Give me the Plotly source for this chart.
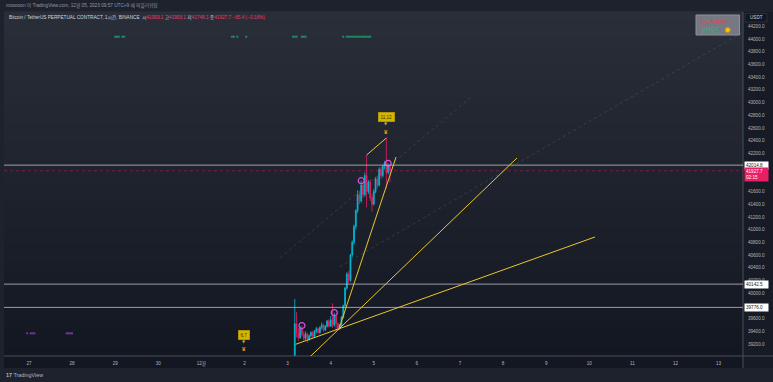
import plotly.graph_objects as go
from datetime import datetime, timedelta

# ---------------- data ----------------
candle_start = "2023-12-03 04:00"
opens  = [38900, 39520, 39380, 39300, 39450, 39350, 39290, 39360, 39280, 39330,
          39380, 39320, 39400, 39440, 39380, 39460, 39500, 39420, 39480, 39560,
          39480, 39580, 39500, 39640, 39520, 39450, 39500, 39620, 39800, 40080,
          40300, 40200, 40600, 40800, 41050, 41300, 41550, 41450, 41700, 41550,
          41850, 41600, 41750, 41500, 41400, 41600, 41800, 41700, 41950, 41850,
          42000, 42050, 41900, 41993.1]
highs  = [39910, 39705, 39450, 39480, 39490, 39400, 39400, 39380, 39350, 39400,
          39410, 39420, 39470, 39460, 39480, 39540, 39520, 39500, 39580, 39590,
          39640, 39840, 39693, 39660, 39540, 39520, 39640, 39820, 40100, 40330,
          40350, 40620, 40830, 41080, 41320, 41620, 41600, 41770, 41740, 41900,
          42174, 41780, 41790, 41560, 41640, 41830, 41840, 41980, 41990, 42020,
          42080, 42442, 42044, 41993.1]
lows   = [38850, 39300, 39250, 39280, 39320, 39250, 39260, 39220, 39250, 39300,
          39290, 39300, 39370, 39350, 39360, 39430, 39390, 39400, 39460, 39460,
          39470, 39450, 39470, 39400, 39410, 39420, 39480, 39600, 39780, 40050,
          40150, 40180, 40560, 40760, 41000, 41260, 41400, 41420, 41500, 41520,
          41350, 41560, 41450, 41282, 41380, 41570, 41650, 41680, 41800, 41820,
          41950, 41650, 41870, 41748.1]
closes = [39520, 39380, 39300, 39450, 39350, 39290, 39360, 39280, 39330, 39380,
          39320, 39400, 39440, 39380, 39460, 39500, 39420, 39480, 39560, 39480,
          39580, 39500, 39640, 39520, 39450, 39500, 39620, 39800, 40080, 40300,
          40200, 40600, 40800, 41050, 41300, 41550, 41450, 41700, 41550, 41850,
          41600, 41750, 41500, 41400, 41600, 41800, 41700, 41950, 41850, 42000,
          42050, 41900, 41993.1, 41927.7]

circle_times  = ["2023-12-03 08:00", "2023-12-04 02:00", "2023-12-04 17:00", "2023-12-05 08:00"]
circle_prices = [39490, 39693, 41770, 42044]

signal_texts  = ["6,7", "11,12"]
signal_times  = ["2023-12-02 00:00", "2023-12-05 07:00"]
signal_prices = [39121, 42541]

green_mark_times = ["2023-11-29 00:00", "2023-11-29 01:00", "2023-11-29 02:00",
                    "2023-11-29 04:00", "2023-11-29 05:00",
                    "2023-12-01 17:00", "2023-12-01 18:00", "2023-12-01 20:00",
                    "2023-12-02 01:00",
                    "2023-12-03 03:00", "2023-12-03 04:00", "2023-12-03 05:00",
                    "2023-12-03 08:00", "2023-12-03 09:00", "2023-12-03 10:00",
                    "2023-12-04 07:00"] + ["2023-12-04 %02d:00" % h for h in range(9, 23)]
green_mark_price = 44036

purple_mark_times = ["2023-11-26 23:00", "2023-11-27 01:00", "2023-11-27 02:00",
                     "2023-11-27 03:00", "2023-11-27 21:00", "2023-11-27 22:00",
                     "2023-11-27 23:00", "2023-11-28 00:00"]
purple_mark_price = 39368

hline_levels = [42014.8, 40142.5, 39776.0]
last_price = 41927.7
last_countdown = "02:15"

trend_lines = [  # (t0, p0, t1, p1)
    ("2023-12-04 04:36", 39436, "2023-12-05 12:24", 42143),
    ("2023-12-03 07:00", 38850, "2023-12-08 07:44", 42127),
    ("2023-12-03 04:30", 39195, "2023-12-10 03:10", 40884),
    ("2023-12-04 20:00", 42174, "2023-12-05 07:00", 42442),
]
faint_lines = [
    ("2023-12-02 19:46", 40553, "2023-12-07 05:34", 43071),
    ("2023-12-04 05:11", 40418, "2023-12-13 13:36", 44110),
]

tick_dates = ["2023-11-%02d" % d for d in range(27, 31)] + ["2023-12-%02d" % d for d in range(1, 14)]
tick_texts = ["27", "28", "29", "30", "12월"] + [str(d) for d in range(2, 14)]
price_ticks = [39200, 39400, 39600, 40000, 40200, 40400, 40600, 40800, 41000, 41200,
               41400, 41600, 42200, 42400, 42600, 42800, 43000, 43200, 43400, 43600,
               43800, 44000, 44200]

# ---------------- styling ----------------
W, H = 773, 382
ML, MR, MT, MB = 4, 30, 12, 26
PW, PH = W - ML - MR, H - MT - MB
UP, DN = "#00bcd4", "#e91e63"
YEL = "#e8c82e"
FONT = "Liberation Sans, Noto Sans CJK KR, sans-serif"
TXT = "#b2b5be"

def pxx(px):
    return (px - ML) / PW

def pxy(py):
    return (H - MB - py) / PH

times = [(datetime.strptime(candle_start, "%Y-%m-%d %H:%M") + timedelta(hours=i)).strftime("%Y-%m-%d %H:%M")
         for i in range(len(opens))]

fig = go.Figure()

fig.add_trace(go.Scatter(x=green_mark_times, y=[green_mark_price] * len(green_mark_times),
                         mode="markers", marker=dict(symbol="square", size=2, color="#1f8a62", line=dict(width=0)),
                         hoverinfo="skip", showlegend=False))
fig.add_trace(go.Scatter(x=purple_mark_times, y=[purple_mark_price] * len(purple_mark_times),
                         mode="markers", marker=dict(symbol="square", size=2, color="#6c3a95", line=dict(width=0)),
                         hoverinfo="skip", showlegend=False))

fig.add_trace(go.Candlestick(
    x=times, open=opens, high=highs, low=lows, close=closes,
    increasing=dict(line=dict(color=UP, width=0.8), fillcolor=UP),
    decreasing=dict(line=dict(color=DN, width=0.8), fillcolor=DN),
    whiskerwidth=0, hoverinfo="skip", showlegend=False))

fig.add_trace(go.Scatter(x=circle_times, y=circle_prices, mode="markers",
                         marker=dict(symbol="circle-open", size=6, color="#d94fe8", line=dict(width=1.2)),
                         hoverinfo="skip", showlegend=False))

shapes = []
# gradient pane background
N = 40
top_c, bot_c = (42, 46, 57), (19, 23, 34)
for i in range(N):
    f = (i + 0.5) / N
    c = tuple(int(round(bot_c[k] + (top_c[k] - bot_c[k]) * f)) for k in range(3))
    shapes.append(dict(type="rect", xref="paper", yref="paper", x0=0, x1=1,
                       y0=i / N, y1=(i + 1) / N + 0.002, fillcolor="rgb(%d,%d,%d)" % c,
                       line=dict(width=0), layer="below"))
# price axis and time axis panels
shapes.append(dict(type="rect", xref="paper", yref="paper", x0=1, x1=pxx(W), y0=pxy(368), y1=1,
                   fillcolor="#171b26", line=dict(width=0), layer="below"))
shapes.append(dict(type="rect", xref="paper", yref="paper", x0=0, x1=1, y0=pxy(368), y1=0,
                   fillcolor="#131722", line=dict(width=0), layer="below"))
# separators
shapes.append(dict(type="line", xref="paper", yref="paper", x0=0, x1=pxx(W), y0=0, y1=0,
                   line=dict(color="#4a4e59", width=1)))
shapes.append(dict(type="line", xref="paper", yref="paper", x0=1, x1=1, y0=pxy(368), y1=1,
                   line=dict(color="#4a4e59", width=1)))

# faint dotted lines
for a, pa, b, pb in faint_lines:
    shapes.append(dict(type="line", xref="x", yref="y", x0=a, y0=pa, x1=b, y1=pb,
                       line=dict(color="rgba(95,125,135,0.3)", width=1, dash="dot")))
# horizontal lines
for v in hline_levels:
    shapes.append(dict(type="line", xref="paper", yref="y", x0=0, x1=1, y0=v, y1=v,
                       line=dict(color="rgba(200,202,210,0.75)", width=1)))
shapes.append(dict(type="line", xref="paper", yref="y", x0=0, x1=1, y0=last_price, y1=last_price,
                   line=dict(color="rgba(233,30,99,0.4)", width=1, dash="dot")))
# trend lines
for a, pa, b, pb in trend_lines:
    shapes.append(dict(type="line", xref="x", yref="y", x0=a, y0=pa, x1=b, y1=pb,
                       line=dict(color=YEL, width=1)))

# signal box (top right)
shapes.append(dict(type="rect", xref="paper", yref="paper", x0=pxx(696), x1=pxx(739.5),
                   y0=pxy(35), y1=pxy(15), fillcolor="#767983", line=dict(color="#8e919b", width=1)))
shapes.append(dict(type="circle", xref="paper", yref="paper", x0=pxx(725.2), x1=pxx(730.2),
                   y0=pxy(32.5), y1=pxy(27.5), fillcolor="#f5c400", line=dict(color="#e08a00", width=0.8)))
# USDT box
shapes.append(dict(type="rect", xref="paper", yref="paper", x0=pxx(745), x1=pxx(767),
                   y0=pxy(22), y1=pxy(13.5), fillcolor="#131722", line=dict(color="#2a2e39", width=1)))

ann = []
# header
ann.append(dict(xref="paper", yref="paper", x=pxx(4), y=pxy(6), xanchor="left", yanchor="middle",
                text="mooooon 이 TradingView.com, 12월 05, 2023 09:57 UTC+9 에 퍼블리쉬됨",
                showarrow=False, font=dict(size=4.7, color="#9598a1", family=FONT)))
red = "#f0386b"
legend = ("Bitcoin / TetherUS PERPETUAL CONTRACT, 1시간, BINANCE  "
          "시<span style='color:%s'>%.1f</span> 고<span style='color:%s'>%.1f</span> "
          "저<span style='color:%s'>%.1f</span> 종<span style='color:%s'>%.1f</span> "
          "<span style='color:%s'>−65.4 (−0.16%%)</span>") % (
    red, opens[-1], red, highs[-1], red, lows[-1], red, closes[-1], red)
ann.append(dict(xref="paper", yref="paper", x=pxx(7), y=pxy(17), xanchor="left", yanchor="middle",
                text=legend, showarrow=False, font=dict(size=4.7, color="#d1d4dc", family=FONT)))
# signal box text
ann.append(dict(xref="paper", yref="paper", x=pxx(699), y=pxy(20.5), xanchor="left", yanchor="middle",
                text="Cu_Signal+", showarrow=False, font=dict(size=5.4, color="#f23645", family=FONT)))
ann.append(dict(xref="paper", yref="paper", x=pxx(699), y=pxy(30), xanchor="left", yanchor="middle",
                text="코인모드", showarrow=False, font=dict(size=5.2, color="#26c281", family=FONT)))
ann.append(dict(xref="paper", yref="paper", x=pxx(756), y=pxy(17.8), xanchor="center", yanchor="middle",
                text="USDT", showarrow=False, font=dict(size=4.6, color="#d1d4dc", family=FONT)))
# price labels on axis
for v in hline_levels:
    ann.append(dict(xref="paper", yref="y", x=pxx(744), y=v, xanchor="left", yanchor="middle",
                    text="%.1f" % v, showarrow=False, bgcolor="#ffffff", borderpad=1, width=21, align="left",
                    font=dict(size=4.6, color="#131722", family=FONT)))
ann.append(dict(xref="paper", yref="y", x=pxx(744), y=last_price, xanchor="left", yanchor="middle", yshift=-3.5,
                text="%.1f<br>%s" % (last_price, last_countdown), showarrow=False, bgcolor=DN, borderpad=1,
                width=21, align="left", font=dict(size=4.6, color="#ffffff", family=FONT)))
# signal labels
for txt, t, p in zip(signal_texts, signal_times, signal_prices):
    ann.append(dict(x=t, y=p, xref="x", yref="y", text="<b>¥</b>", showarrow=False,
                    font=dict(size=6, color="#ff9f1a", family=FONT)))
    ann.append(dict(x=t, y=p, xref="x", yref="y", text="▼", showarrow=False, yshift=8,
                    font=dict(size=4, color="#d6b400", family="DejaVu Sans")))
    ann.append(dict(x=t, y=p, xref="x", yref="y", text=txt, showarrow=False, yshift=14.5,
                    bgcolor="#d6b400", bordercolor="#b89a00", borderwidth=0.5, borderpad=2,
                    font=dict(size=4.6, color="#3a3000", family=FONT)))
# bottom logo
ann.append(dict(xref="paper", yref="paper", x=pxx(4), y=pxy(374.5), xanchor="left", yanchor="middle",
                text="<b>17</b> TradingView", showarrow=False, font=dict(size=5.4, color="#b2b5be", family=FONT)))

fig.update_layout(
    width=W, height=H, margin=dict(l=ML, r=MR, t=MT, b=MB, pad=0),
    paper_bgcolor="#1e222d", plot_bgcolor="rgba(0,0,0,0)",
    shapes=shapes, annotations=ann, showlegend=False,
    font=dict(family=FONT, size=4.6, color=TXT),
    xaxis=dict(type="date", range=["2023-11-26 10:05", "2023-12-13 13:36"],
               tickvals=tick_dates, ticktext=tick_texts, showgrid=False, zeroline=False,
               showline=False, ticks="outside", ticklen=2, tickcolor="rgba(0,0,0,0)",
               tickfont=dict(size=4.6, color=TXT), rangeslider=dict(visible=False), fixedrange=True),
    yaxis=dict(side="right", range=[39011, 44425], tickvals=price_ticks, tickformat=".1f",
               showgrid=False, zeroline=False, showline=False, ticks="outside", ticklen=3,
               tickcolor="rgba(0,0,0,0)", tickfont=dict(size=4.6, color=TXT), fixedrange=True),
)

fig.write_html("out.html", config=dict(displayModeBar=False),
               post_script="document.body.style.margin='0';document.body.style.padding='0';"
                           "document.body.style.overflow='hidden';")
